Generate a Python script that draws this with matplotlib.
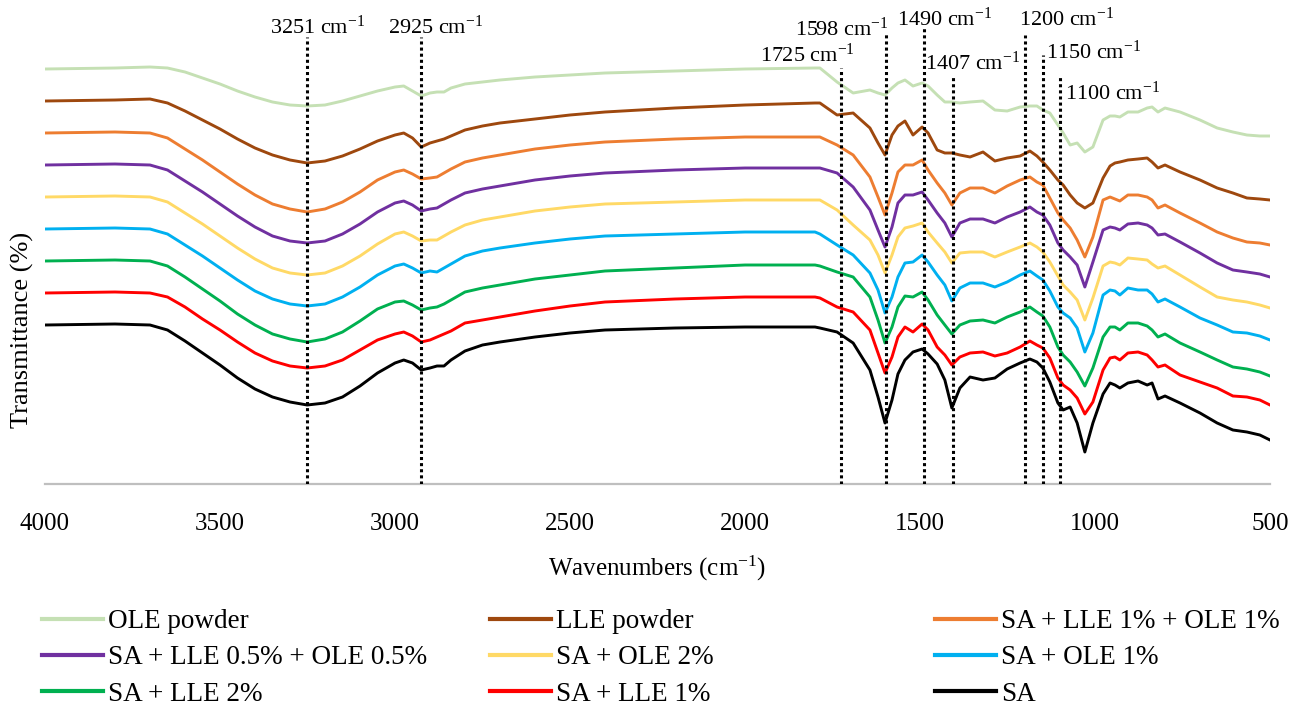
import matplotlib
matplotlib.use("Agg")
import matplotlib.pyplot as plt
from matplotlib.lines import Line2D

plt.rcParams['font.family'] = ['Liberation Serif', 'DejaVu Serif']
plt.rcParams['mathtext.fontset'] = 'custom'
plt.rcParams['mathtext.rm'] = 'Liberation Serif'
plt.rcParams['mathtext.it'] = 'Liberation Serif:italic'
plt.rcParams['mathtext.bf'] = 'Liberation Serif:bold'

# ---------------- data ----------------
wavenumbers = [4000, 3800, 3700, 3650, 3600, 3550, 3500, 3450, 3400, 3350,
               3300, 3251, 3200, 3150, 3100, 3050, 3000, 2975, 2950, 2925,
               2900, 2880, 2860, 2840, 2800, 2750, 2700, 2600, 2500, 2400,
               2200, 2000, 1800,
               1786, 1737, 1691, 1643, 1620, 1600, 1580, 1563, 1543, 1520,
               1494, 1477, 1451, 1429, 1409, 1386, 1357, 1320, 1286, 1251,
               1214, 1186, 1166, 1149, 1129, 1106, 1091, 1071, 1051, 1029,
               1006, 977, 957, 943, 929, 906, 877, 851, 837, 820,
               800, 757, 700, 651, 606, 566, 529, 500]

ole_powder = [431, 432, 433, 432, 428, 422, 416, 409, 403, 398,
              395, 394, 395, 399, 404, 409, 413, 414, 409, 404,
              407, 408, 408, 412, 416, 418, 420, 423, 425, 427,
              429, 431, 432,
              432, 418, 407, 410, 407, 405, 412, 417, 420, 414,
              417, 414, 405, 398, 398, 397, 398, 399, 390, 389,
              393, 394, 394, 390, 387, 375, 367, 355, 357, 348,
              353, 380, 384, 384, 383, 388, 388, 392, 393, 388,
              392, 388, 380, 372, 368, 365, 364, 364]

lle_powder = [399, 400, 401, 397, 389, 380, 371, 361, 352, 345,
              340, 337, 339, 344, 351, 359, 365, 367, 362, 353,
              357, 359, 361, 364, 370, 374, 377, 381, 385, 388,
              392, 395, 397,
              397, 385, 387, 372, 357, 345, 365, 374, 379, 365,
              373, 367, 350, 347, 347, 345, 343, 348, 339, 342,
              344, 349, 344, 338, 330, 320, 315, 305, 297, 292,
              297, 322, 334, 337, 338, 340, 341, 342, 338, 332,
              335, 328, 320, 312, 307, 302, 301, 300]

sa_lle1_ole1 = [367, 368, 367, 362, 351, 340, 328, 316, 305, 296,
                291, 288, 291, 298, 308, 320, 328, 330, 326, 321,
                322, 323, 327, 331, 338, 342, 345, 351, 355, 358,
                361, 363, 363,
                363, 355, 345, 323, 303, 285, 307, 328, 335, 335,
                340, 330, 317, 307, 295, 307, 312, 312, 307, 314,
                320, 323, 318, 315, 302, 287, 280, 272, 260, 243,
                263, 300, 303, 301, 299, 305, 305, 303, 300, 292,
                295, 287, 277, 268, 262, 258, 257, 255]

sa_lle05_ole05 = [335, 336, 335, 330, 319, 308, 296, 284, 273, 264,
                  259, 257, 259, 266, 276, 288, 297, 299, 295, 289,
                  291, 292, 296, 300, 307, 311, 314, 320, 324, 327,
                  330, 332, 332,
                  332, 327, 313, 290, 270, 253, 273, 297, 305, 305,
                  308, 300, 287, 277, 263, 277, 281, 281, 277, 283,
                  288, 293, 288, 285, 275, 257, 250, 243, 235, 213,
                  238, 270, 273, 272, 270, 276, 277, 275, 272, 265,
                  266, 258, 247, 237, 230, 228, 226, 223]

sa_ole2 = [303, 304, 303, 298, 287, 276, 264, 252, 241, 232,
           227, 225, 227, 234, 244, 256, 266, 268, 264, 259,
           260, 260, 264, 268, 275, 280, 283, 289, 293, 296,
           298, 300, 300,
           300, 290, 275, 260, 245, 227, 245, 263, 272, 274,
           277, 268, 257, 248, 237, 247, 248, 248, 243, 248,
           253, 257, 253, 248, 238, 224, 215, 208, 200, 180,
           202, 234, 238, 237, 235, 242, 241, 240, 236, 232,
           234, 225, 213, 203, 200, 198, 195, 192]

sa_ole1 = [271, 272, 271, 266, 255, 244, 232, 220, 209, 201,
           196, 194, 196, 203, 213, 225, 234, 236, 232, 227,
           229, 228, 232, 236, 244, 249, 252, 257, 261, 264,
           266, 268, 268,
           266, 255, 245, 227, 210, 187, 203, 223, 237, 238,
           245, 238, 225, 215, 199, 212, 217, 217, 213, 218,
           225, 229, 224, 220, 209, 193, 187, 182, 172, 148,
           167, 205, 210, 209, 205, 212, 210, 210, 206, 198,
           201, 193, 182, 175, 168, 167, 164, 160]

sa_lle2 = [239, 240, 239, 234, 223, 211, 199, 186, 175, 166,
           161, 158, 161, 168, 179, 191, 198, 199, 195, 190,
           192, 193, 196, 200, 208, 212, 215, 221, 225, 229,
           232, 235, 235,
           234, 228, 223, 203, 180, 157, 173, 193, 204, 203,
           208, 200, 185, 175, 166, 175, 179, 180, 177, 183,
           188, 193, 188, 184, 173, 153, 145, 138, 128, 114,
           132, 163, 173, 173, 170, 177, 177, 174, 170, 163,
           166, 157, 148, 140, 133, 131, 128, 124]

sa_lle1 = [207, 208, 207, 203, 193, 181, 170, 158, 147, 139,
           134, 132, 134, 140, 150, 160, 166, 168, 164, 158,
           160, 163, 166, 169, 177, 180, 183, 189, 194, 198,
           201, 203, 203,
           202, 193, 188, 170, 147, 127, 143, 163, 173, 168,
           176, 170, 153, 145, 135, 143, 147, 148, 144, 147,
           153, 159, 155, 152, 142, 122, 115, 110, 102, 86,
           98, 130, 142, 143, 140, 147, 148, 145, 140, 133,
           135, 125, 118, 112, 104, 103, 100, 95]

sa = [175, 176, 175, 170, 159, 147, 135, 122, 111, 103,
      98, 95, 97, 103, 114, 127, 137, 140, 137, 130,
      132, 134, 134, 140, 149, 155, 158, 163, 167, 170,
      172, 173, 173,
      172, 168, 157, 130, 103, 77, 100, 126, 140, 148,
      151, 146, 136, 120, 92, 112, 123, 120, 122, 131,
      137, 141, 138, 132, 118, 97, 90, 93, 77, 48,
      77, 106, 117, 115, 112, 117, 119, 115, 117, 101,
      104, 97, 87, 77, 70, 68, 65, 60]

series_names = ['OLE powder', 'LLE powder', 'SA + LLE 1% + OLE 1%',
                'SA + LLE 0.5% + OLE 0.5%', 'SA + OLE 2%', 'SA + OLE 1%',
                'SA + LLE 2%', 'SA + LLE 1%', 'SA']
series_values = [ole_powder, lle_powder, sa_lle1_ole1, sa_lle05_ole05,
                 sa_ole2, sa_ole1, sa_lle2, sa_lle1, sa]

# marked bands (wavenumber) and heights of their dotted markers
band_positions = [3251, 2925, 1725, 1598, 1490, 1407, 1200, 1150, 1100]
band_tops = [463, 463, 432, 467, 472, 425, 465, 445, 423]
band_labels = ['3251 cm$^{-1}$', '2925 cm$^{-1}$', '1725 cm$^{-1}$',
               '1598 cm$^{-1}$', '1490 cm$^{-1}$', '1407 cm$^{-1}$',
               '1200 cm$^{-1}$', '1150 cm$^{-1}$', '1100 cm$^{-1}$']

x_ticks = [4000, 3500, 3000, 2500, 2000, 1500, 1000, 500]

# ---------------- style ----------------
colors = ['#C5E0B4', '#9E480E', '#ED7D31', '#7030A0', '#FFD966',
          '#00B0F0', '#00B050', '#FF0000', '#000000']
label_xy = [(3220, 473), (2883, 473), (1823, 445), (1723, 471),
            (1429, 481), (1349, 437), (1080, 481), (1003, 448), (951, 407)]

W, H = 1299, 705
fig = plt.figure(figsize=(W / 100, H / 100), dpi=100)
ax = fig.add_axes([45 / W, (H - 484) / H, 1225 / W, 474 / H])
ax.set_xlim(4000, 500)
ax.set_ylim(16, 490)

for vals, c in zip(series_values, colors):
    ax.plot(wavenumbers, vals, color=c, lw=2.1, solid_joinstyle='round', zorder=2)

for pos, top in zip(band_positions, band_tops):
    ax.plot([pos, pos], [16, top], color='black', lw=2.2,
            linestyle=(0, (1, 1)), zorder=3)

for lab, (lx, ly) in zip(band_labels, label_xy):
    ax.text(lx, ly, lab, ha='center', va='center', fontsize=16, zorder=4)

for s in ['left', 'right', 'top']:
    ax.spines[s].set_visible(False)
ax.spines['bottom'].set_color('#BFBFBF')
ax.spines['bottom'].set_linewidth(1.6)
ax.set_yticks([])
ax.set_xticks(x_ticks)
ax.set_xticklabels([str(t) for t in x_ticks])
ax.tick_params(axis='x', length=0, pad=21, labelsize=18)

fig.text(657 / W, 1 - 568 / H, 'Wavenumbers (cm$^{-1}$)', ha='center',
         va='center', fontsize=18)
fig.text(22 / W, 1 - 330 / H, 'Transmittance (%)', ha='center', va='center',
         rotation=90, fontsize=19)

handles = [Line2D([], [], color=c, lw=3.0) for c in colors]
col_x = [42, 490, 935]
for ci in range(3):
    idx = [ci, ci + 3, ci + 6]
    fig.legend([handles[i] for i in idx], [series_names[i] for i in idx],
               loc='upper left', bbox_to_anchor=(col_x[ci] / W, 1 - 609 / H),
               frameon=False, fontsize=19.5, handlelength=2.25, handletextpad=0.2,
               labelspacing=0.42, borderpad=0, borderaxespad=0)

fig.savefig('out.png', dpi=100)
